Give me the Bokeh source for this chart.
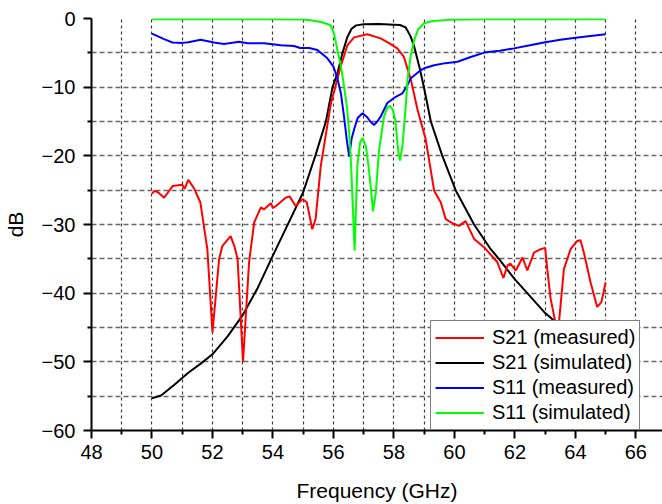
from bokeh.plotting import figure
from bokeh.models import FixedTicker, Range1d, Legend, LegendItem
from bokeh.embed import file_html
from bokeh.resources import INLINE

# ---------------- data ----------------
freq_s21_meas = [50.0, 50.08, 50.2, 50.4, 50.68, 51.0, 51.08, 51.2, 51.4, 51.6, 51.83, 52.0, 52.22, 52.33,
                 52.6, 52.72, 52.83, 53.01, 53.21, 53.38, 53.6, 53.7, 53.93, 54.0, 54.1, 54.42, 54.55, 54.75,
                 54.98, 55.12, 55.3, 55.41, 55.58, 55.91, 56.24, 56.46, 56.68, 57.12, 57.56, 57.84, 58.11,
                 58.33, 58.56, 58.78, 59.05, 59.33, 59.55, 59.71, 59.88, 60.15, 60.37, 60.65, 60.98, 61.42,
                 61.62, 61.75, 61.85, 62.03, 62.25, 62.41, 62.63, 62.85, 63.0, 63.07, 63.18, 63.42, 63.62,
                 63.84, 64.06, 64.17, 64.28, 64.5, 64.72, 64.86, 65.0]
db_s21_meas = [-25.5, -25.1, -25.3, -26.1, -24.4, -24.2, -24.8, -23.5, -24.8, -26.8, -33.6, -45.7, -35.0, -33.1,
               -31.7, -33.1, -35.0, -50.0, -35.5, -29.7, -27.5, -27.8, -26.9, -27.6, -27.3, -26.1, -25.9, -27.3,
               -26.3, -26.8, -30.7, -29.2, -21.5, -12.5, -7.0, -3.9, -2.75, -2.3, -2.9, -3.6, -4.35,
               -5.6, -8.9, -13.3, -17.6, -25.1, -26.8, -29.2, -29.7, -30.2, -29.5, -32.1, -33.3, -35.5,
               -37.8, -36.0, -35.7, -36.7, -34.8, -36.7, -34.1, -33.6, -33.4, -36.5, -40.8, -46.0, -36.5,
               -33.6, -32.4, -32.3, -34.1, -38.4, -42.0, -41.3, -38.4]

freq_s21_sim = [50.0, 50.3, 50.72, 51.2, 51.6, 52.0, 52.5, 53.0, 53.5, 54.0, 54.5, 55.0, 55.4, 55.75, 55.97,
                56.13, 56.3, 56.46, 56.6, 56.75, 57.0, 57.5, 58.0, 58.2, 58.39, 58.55, 58.67, 58.85, 59.0,
                59.22, 59.6, 60.04, 60.65, 61.2, 61.47, 62.0, 62.41, 63.0, 63.4, 64.0, 64.5, 65.0]
db_s21_sim = [-55.3, -54.9, -53.4, -51.6, -50.3, -48.9, -46.3, -43.2, -39.2, -34.5, -29.9, -25.3, -20.0, -15.0,
              -10.0, -8.0, -5.0, -2.7, -1.5, -1.0, -0.85, -0.8, -0.9, -0.95, -1.3, -2.6, -4.1, -7.2, -10.2,
              -15.0, -20.0, -25.0, -30.0, -33.6, -35.0, -38.0, -40.0, -42.9, -44.4, -47.0, -49.0, -51.0]

freq_s11_meas = [50.0, 50.2, 50.4, 50.68, 51.0, 51.2, 51.61, 52.05, 52.38, 52.88, 53.16, 53.71, 54.26, 54.7,
                 54.9, 55.2, 55.47, 55.8, 56.0, 56.13, 56.25, 56.35, 56.45, 56.52, 56.6, 56.68, 56.8, 56.96,
                 57.1, 57.22, 57.34, 57.45, 57.56, 57.78, 58.06, 58.28, 58.42, 58.56, 58.89, 59.0, 59.33,
                 59.7, 60.1, 60.54, 61.04, 61.5, 61.97, 62.5, 62.96, 63.5, 64.01, 64.5, 65.0]
db_s11_meas = [-2.2, -2.6, -3.0, -3.5, -3.55, -3.45, -3.1, -3.5, -3.7, -3.4, -3.6, -3.6, -3.9, -4.0,
               -4.3, -4.3, -4.6, -5.8, -7.0, -8.7, -11.0, -14.3, -18.0, -20.1, -17.5, -16.2, -14.5, -13.8,
               -14.3, -15.0, -15.5, -15.0, -14.3, -12.3, -11.4, -10.9, -9.9, -8.7, -7.5, -7.25, -6.8,
               -6.5, -6.3, -5.6, -4.9, -4.7, -4.35, -3.9, -3.5, -3.1, -2.8, -2.55, -2.3]

freq_s11_sim = [50.0, 54.0, 55.0, 55.3, 55.58, 55.8, 55.91, 56.02, 56.13, 56.25, 56.35, 56.45, 56.52, 56.58,
                56.63, 56.7, 56.79, 56.88, 56.96, 57.07, 57.16, 57.23, 57.31, 57.4, 57.51, 57.67, 57.78,
                57.87, 57.96, 58.04, 58.15, 58.2, 58.28, 58.39, 58.45, 58.55, 58.67, 58.8, 58.99, 59.3,
                59.8, 61.0, 65.0]
db_s11_sim = [-0.1, -0.1, -0.15, -0.3, -0.5, -0.8, -1.0, -2.2, -4.6, -7.0, -9.9, -13.0, -16.7, -21.0,
              -26.3, -33.8, -21.5, -18.1, -17.4, -18.6, -21.5, -24.4, -28.1, -25.4, -19.1, -14.3, -13.0,
              -12.7, -13.3, -14.7, -19.6, -20.7, -18.6, -12.8, -8.9, -5.5, -3.1, -1.6, -0.7, -0.35,
              -0.2, -0.12, -0.1]

x_ticks = [48, 50, 52, 54, 56, 58, 60, 62, 64, 66]
x_minor = [49, 51, 53, 55, 57, 59, 61, 63, 65]
y_ticks = [-60, -50, -40, -30, -20, -10, 0]
y_minor = [-55, -45, -35, -25, -15, -5]
grid_x = [49, 50, 51, 52, 53, 54, 55, 56, 57, 58, 59, 60, 61, 62, 63, 64, 65, 66]
grid_y = [-55, -50, -45, -40, -35, -30, -25, -20, -15, -10, -5]

FONT = "Liberation Sans"

p = figure(width=662, height=504, output_backend="svg", toolbar_location=None,
           x_range=Range1d(48, 66.88), y_range=Range1d(-60, 0),
           min_border_left=91, min_border_right=0, min_border_top=18, min_border_bottom=71)
p.outline_line_color = None
p.background_fill_color = "white"

# grid
p.xgrid.ticker = FixedTicker(ticks=grid_x)
p.ygrid.ticker = FixedTicker(ticks=grid_y)
p.xgrid.grid_line_color = "#3a3a3a"
p.xgrid.grid_line_dash = "3 3"
p.xgrid.grid_line_width = 1.2
p.ygrid.grid_line_color = "#666666"
p.ygrid.grid_line_dash = "5 3"
p.ygrid.grid_line_width = 1.5

# axes
p.xaxis.ticker = FixedTicker(ticks=x_ticks, minor_ticks=x_minor)
p.yaxis.ticker = FixedTicker(ticks=y_ticks, minor_ticks=y_minor)
for ax in (p.xaxis, p.yaxis):
    ax.axis_line_width = 2
    ax.axis_line_color = "black"
    ax.major_tick_line_color = "black"
    ax.major_tick_line_width = 2
    ax.major_tick_out = 8
    ax.major_tick_in = 0
    ax.minor_tick_line_color = "black"
    ax.minor_tick_line_width = 2
    ax.minor_tick_out = 4
    ax.minor_tick_in = 0
    ax.major_label_text_font = FONT
    ax.major_label_text_font_size = "20px"
    ax.major_label_text_color = "black"
    ax.axis_label_text_font = FONT
    ax.axis_label_text_font_size = "21px"
    ax.axis_label_text_font_style = "normal"
    ax.axis_label_text_color = "black"

p.xaxis.axis_label = "Frequency (GHz)"
p.xaxis.major_label_standoff = 6
p.xaxis.axis_label_standoff = 17
p.yaxis.axis_label = "dB"
p.yaxis.major_label_standoff = 8
p.yaxis.axis_label_standoff = 12

# curves
r_black = p.line(freq_s21_sim, db_s21_sim, line_color="black", line_width=2)
r_red = p.line(freq_s21_meas, db_s21_meas, line_color="#ff0000", line_width=2)
r_blue = p.line(freq_s11_meas, db_s11_meas, line_color="#0000ff", line_width=2)
r_green = p.line(freq_s11_sim, db_s11_sim, line_color="#00ff00", line_width=2)

legend = Legend(items=[
    LegendItem(label="S21 (measured)", renderers=[r_red]),
    LegendItem(label="S21 (simulated)", renderers=[r_black]),
    LegendItem(label="S11 (measured)", renderers=[r_blue]),
    LegendItem(label="S11 (simulated)", renderers=[r_green]),
], location=(339, 0))
legend.margin = 0
legend.padding = 4
legend.spacing = 0
legend.label_height = 25
legend.glyph_height = 25
legend.glyph_width = 49
legend.label_standoff = 8
legend.label_text_font = FONT
legend.label_text_font_size = "20px"
legend.label_text_color = "black"
legend.border_line_color = "black"
legend.border_line_width = 1
legend.background_fill_color = "white"
legend.background_fill_alpha = 1.0
p.add_layout(legend)

open("out.html", "w").write(file_html(p, INLINE))
